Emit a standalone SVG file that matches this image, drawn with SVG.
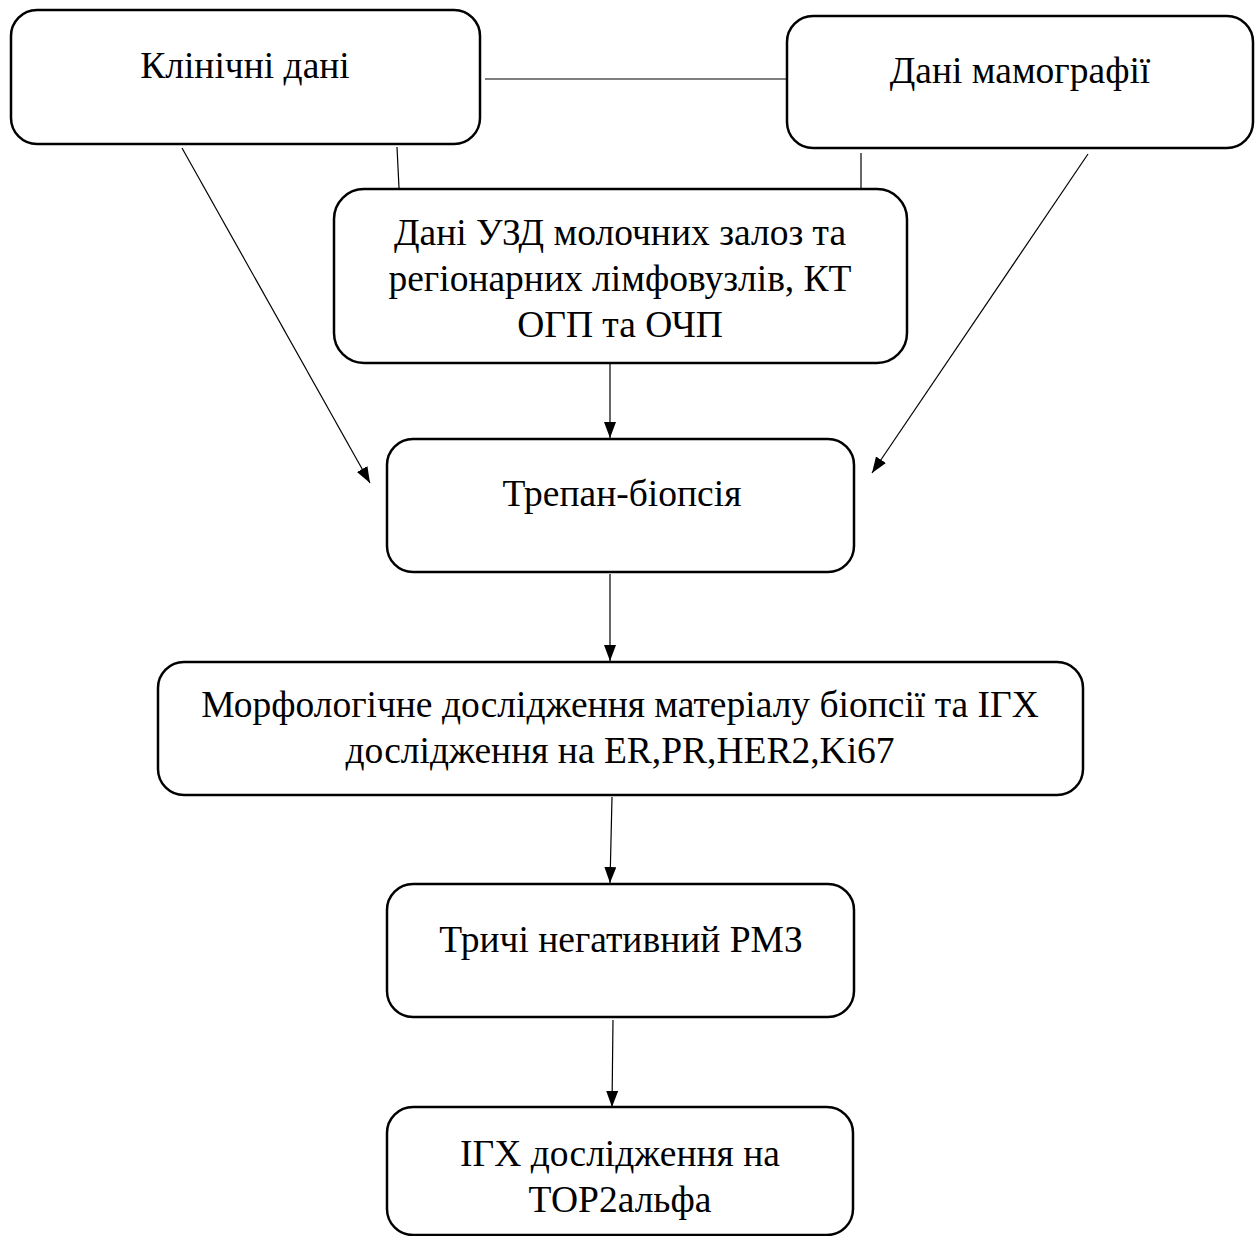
<svg xmlns="http://www.w3.org/2000/svg" width="1255" height="1236" viewBox="0 0 1255 1236">
<style>
.box{fill:#fff;stroke:#000;stroke-width:2.5}
.t{font-family:"Liberation Serif","Times New Roman",serif;font-size:37.5px;fill:#000;text-anchor:middle}
.c{stroke:#000;stroke-width:1.2;fill:none}
.a{marker-end:url(#ah)}
</style>
<defs>
<marker id="ah" markerUnits="userSpaceOnUse" markerWidth="17" markerHeight="13" refX="16" refY="6" orient="auto">
<path d="M0,0 L16,6 L0,12 z" fill="#000"/>
</marker>
</defs>
<rect width="1255" height="1236" fill="#fff"/>
<g id="connectors">
<line class="c" x1="485" y1="79" x2="787" y2="79"/>
<line class="c" x1="397" y1="147" x2="399" y2="188"/>
<line class="c" x1="861" y1="153" x2="861" y2="188"/>
<line class="c a" x1="182" y1="148" x2="370" y2="483"/>
<line class="c a" x1="1088" y1="154" x2="872" y2="473"/>
<line class="c a" x1="610" y1="356" x2="610" y2="438"/>
<line class="c a" x1="610" y1="574" x2="610" y2="661"/>
<line class="c a" x1="612" y1="797" x2="610" y2="883"/>
<line class="c a" x1="613" y1="1020" x2="612" y2="1107"/>
</g>
<g id="n1"><rect class="box" x="11" y="10" width="469" height="134" rx="26"/><text class="t" x="245" y="78">Клінічні дані</text></g>
<g id="n2"><rect class="box" x="787" y="16" width="466" height="132" rx="26"/><text class="t" x="1020" y="83">Дані мамографії</text></g>
<g id="n3"><rect class="box" x="334" y="189" width="573" height="174" rx="30"/>
<text class="t" x="620" y="245">Дані УЗД молочних залоз та</text>
<text class="t" x="620" y="291">регіонарних лімфовузлів, КТ</text>
<text class="t" x="620" y="337">ОГП та ОЧП</text></g>
<g id="n4"><rect class="box" x="387" y="439" width="467" height="133" rx="26"/><text class="t" x="622" y="506">Трепан-біопсія</text></g>
<g id="n5"><rect class="box" x="158" y="662" width="925" height="133" rx="26"/>
<text class="t" x="620" y="717">Морфологічне дослідження матеріалу біопсії та ІГХ</text>
<text class="t" x="620" y="763">дослідження на ER,PR,HER2,Ki67</text></g>
<g id="n6"><rect class="box" x="387" y="884" width="467" height="133" rx="26"/><text class="t" x="621" y="952">Тричі негативний РМЗ</text></g>
<g id="n7"><rect class="box" x="387" y="1107" width="466" height="128" rx="26"/>
<text class="t" x="620" y="1166">ІГХ дослідження на</text>
<text class="t" x="620" y="1212">ТОР2альфа</text></g>
</svg>
